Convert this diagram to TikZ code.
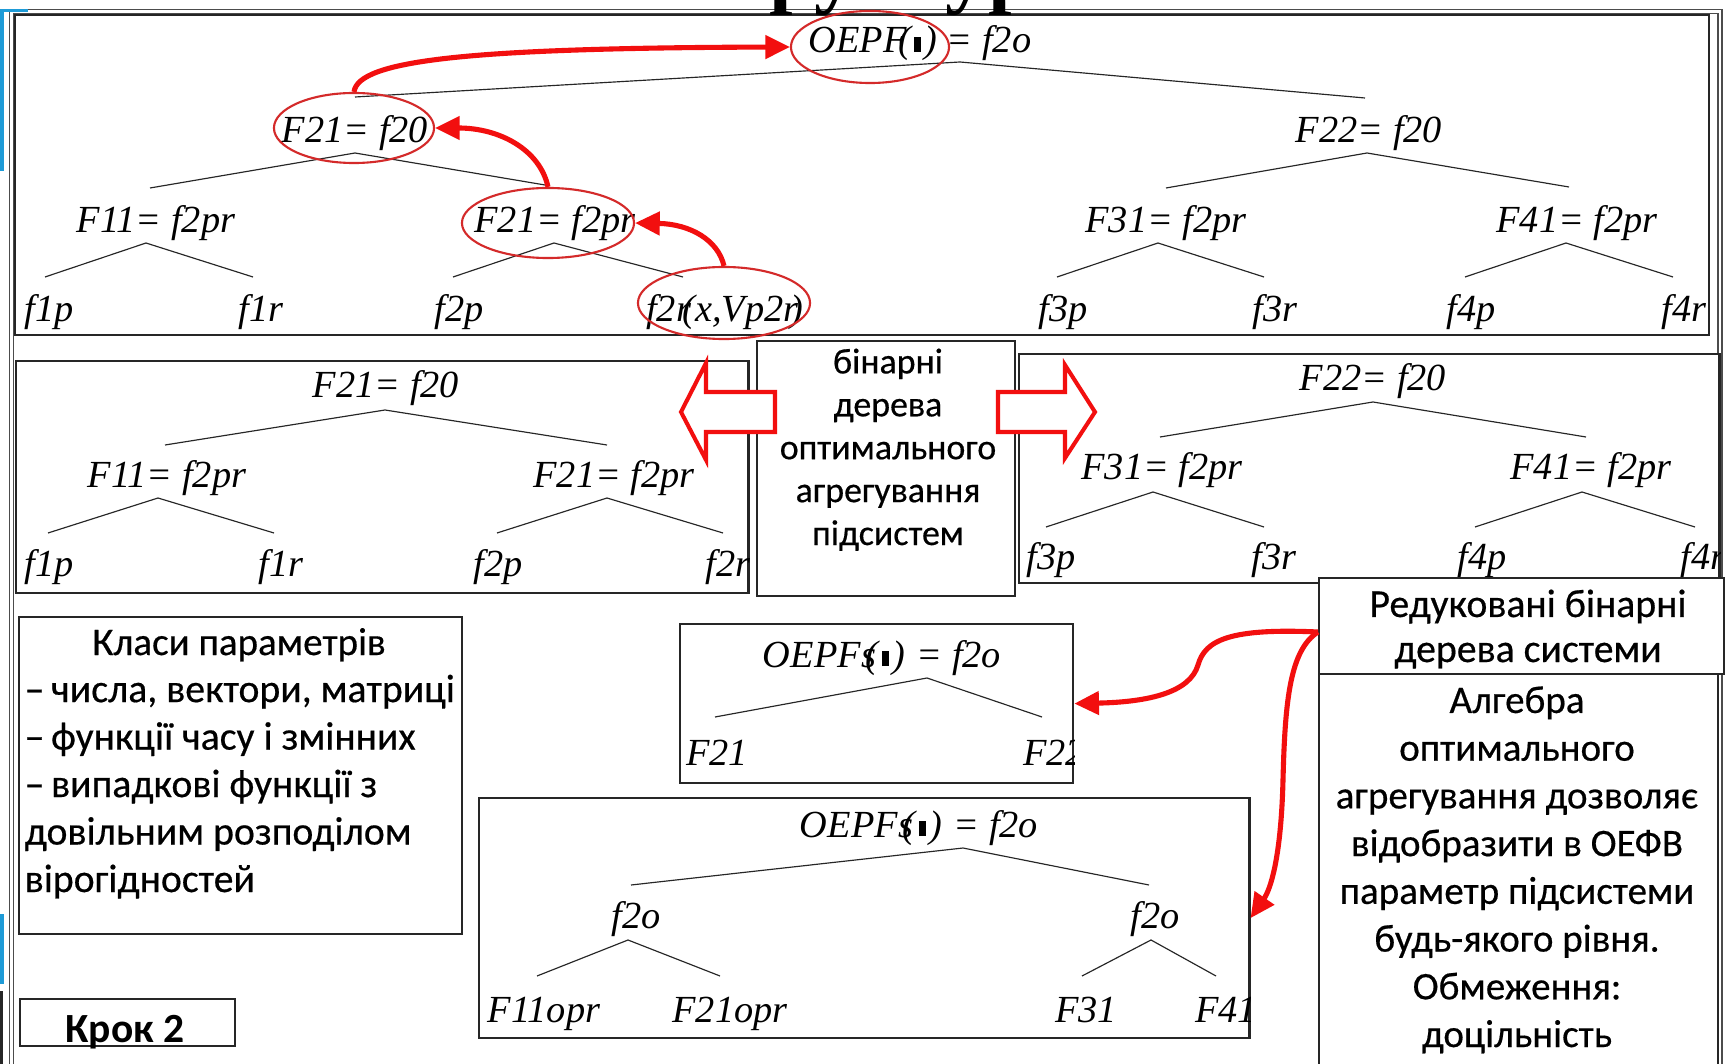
\documentclass[tikz,border=0pt]{standalone}
\usepackage{fontspec}
\setmainfont{Liberation Serif}
\newfontfamily\calfont{Carlito}[FakeBold=0.45]
\newfontfamily\calplain{Carlito}
\usetikzlibrary{arrows.meta,shapes.geometric}
\definecolor{rd}{HTML}{F20F0F}
\definecolor{rde}{HTML}{D42A2A}
\definecolor{bl}{HTML}{1E9BD7}
\definecolor{bk}{HTML}{262626}
\newcommand\mybranch[4]{%
  \coordinate (#1) at (#2);
  \coordinate (#1l) at (#3);
  \coordinate (#1r) at (#4);
  \draw[tl] (#1l) -- (#1) -- (#1r);}
\newcommand\myblk{\rule[0.02em]{0.17em}{0.4em}}
\newcommand\oepfA{OEPF\kern-0.22em(\kern0.08em\myblk\kern0.1em) = f2o}
\newcommand\oepfB{OEPF\kern0.02em s\kern-0.28em(\kern0.1em\myblk\kern0.1em)\kern0.04em\ =\ f2o}
\tikzset{
  lab/.style={inner sep=0pt, anchor=base, font=\fontsize{10.9}{12}\selectfont\itshape},
  tl/.style={draw=black!85, line width=0.33pt},
  boxs/.style={draw=bk, line width=0.6pt, fill=white, inner sep=0pt, anchor=north west},
  ell/.style={ellipse, draw=rde, line width=0.6pt, inner sep=0pt},
  rarr/.style={draw=rd, line width=1.45pt, -{Triangle[length=7pt,width=6.5pt]}},
  hollow/.style={draw=rd, line width=1.15pt, fill=white, line join=miter},
  cal/.style={inner sep=0pt, font=\calfont\fontsize{11.1}{13.57}\selectfont},
}
\begin{document}
\begin{tikzpicture}[x=0.01cm,y=-0.01cm]
\useasboundingbox (0,0) rectangle (1727,1064);
\fill[white] (0,0) rectangle (1727,1064);
% outer frame
\draw[draw=black!70, line width=0.45pt, double=white, double distance=0.6pt] (11.5,11.5) rectangle (1720,1100);

% ---------- top panel ----------
\node[boxs, minimum width=16.93cm, minimum height=3.20cm] (tp) at (14,14) {};
\begin{scope}
\clip (tp.north west) rectangle (tp.south east);
\node[lab] (r0t) at (920,53) {\oepfA};
\node[lab] (a21) at (355,143) {F21= f20};
\node[lab] (a22) at (1369,143) {F22= f20};
\node[lab] (a11) at (156,233) {F11= f2pr};
\node[lab] (a21b) at (555,233) {F21= f2pr};
\node[lab] (a31) at (1166,233) {F31= f2pr};
\node[lab] (a41) at (1577,233) {F41= f2pr};
\node[lab] (l1p) at (49,322) {f1p};
\node[lab] (l1r) at (261,322) {f1r};
\node[lab] (l2p) at (459,322) {f2p};
\node[lab] (l2r) at (725,322) {f2r\kern-0.22em(x,Vp2r\kern-0.2em)};
\node[lab] (l3p) at (1063,322) {f3p};
\node[lab] (l3r) at (1275,322) {f3r};
\node[lab] (l4p) at (1471,322) {f4p};
\node[lab] (l4r) at (1684,322) {f4r};
\mybranch{b0}{960,62}{355,97}{1365,98}
\mybranch{b21}{355,153}{150,188}{545,185}
\mybranch{b22}{1367,153}{1166,188}{1569,187}
\mybranch{b11}{146,243}{45,277}{253,277}
\mybranch{b21b}{554,243}{453,277}{683,277}
\mybranch{b31}{1158,243}{1057,277}{1264,277}
\mybranch{b41}{1566,243}{1465,277}{1673,277}
\end{scope}

% ---------- middle left ----------
\node[boxs, minimum width=7.32cm, minimum height=2.32cm] (lm) at (15,360) {};
\begin{scope}
\clip (lm.north west) rectangle (lm.south east);
\node[lab] (m21) at (386,398) {F21= f20};
\node[lab] (m11) at (167,488) {F11= f2pr};
\node[lab] (m21b) at (614,488) {F21= f2pr};
\node[lab] (m1p) at (49,577) {f1p};
\node[lab] (m1r) at (281,577) {f1r};
\node[lab] (m2p) at (498,577) {f2p};
\node[lab] (m2r) at (728,577) {f2r};
\mybranch{c21}{385,410}{165,445}{607,445}
\mybranch{c11}{158,498}{48,533}{274,533}
\mybranch{c21b}{607,498}{497,533}{723,533}
\end{scope}

% ---------- middle right ----------
\node[boxs, minimum width=7.00cm, minimum height=2.29cm] (rm) at (1018,353) {};
\begin{scope}
\clip (rm.north west) rectangle (rm.south east);
\node[lab] (n22) at (1373,391) {F22= f20};
\node[lab] (n31) at (1162,480) {F31= f2pr};
\node[lab] (n41) at (1591,480) {F41= f2pr};
\node[lab] (n3p) at (1051,569) {f3p};
\node[lab] (n3r) at (1274,569) {f3r};
\node[lab] (n4p) at (1482,569) {f4p};
\node[lab] (n4r) at (1703,569) {f4r};
\mybranch{d22}{1373,402}{1160,437}{1586,437}
\mybranch{d31}{1153,492}{1046,527}{1264,527}
\mybranch{d41}{1582,492}{1475,527}{1695,527}
\end{scope}

% ---------- centre box ----------
\node[boxs, minimum width=2.58cm, minimum height=2.55cm] (cb) at (756,340) {};
\node[cal, font=\calfont\fontsize{10.2}{12.2}\selectfont, align=center, anchor=base] (cbt) at (888,545)
  {бінарні\\дерева\\оптимального\\агрегування\\підсистем};
\draw[hollow] (775,392) -- (706,392) -- (706,363) -- (681,412) -- (706,460) -- (706,432) -- (775,432) -- cycle;
\draw[hollow] (998,392) -- (1065,392) -- (1065,365) -- (1095,412) -- (1065,458) -- (1065,432) -- (998,432) -- cycle;

% ---------- classes box ----------
\node[boxs, minimum width=4.43cm, minimum height=3.17cm] (kb) at (18,616) {};
\node[cal, anchor=base] (kbh) at (239,655) {Класи параметрів};
\node[cal, font=\calfont\fontsize{11.3}{13.5}\selectfont, align=left, anchor=base west] (kbl) at (24,892)
  {–\,числа, вектори, матриці\\–\,функції часу і змінних\\–\,випадкові функції з\\довільним розподілом\\вірогідностей};
\node[boxs, minimum width=2.15cm, minimum height=0.47cm] (kr) at (19,998) {};
\node[cal, font=\calplain\bfseries\fontsize{11.8}{13}\selectfont, anchor=base] (krt) at (125,1042) {Крок 2};

% ---------- small OEPF box ----------
\node[boxs, minimum width=3.93cm, minimum height=1.59cm] (sb) at (679,623) {};
\begin{scope}
\clip (sb.north west) rectangle (sb.south east);
\node[lab] (s0) at (882,667) {\oepfB};
\node[lab] (s21) at (717,765) {F21};
\node[lab] (s22) at (1054,765) {F22};
\mybranch{e0}{927,678}{715,717}{1042,717}
\end{scope}

% ---------- big OEPF box ----------
\node[boxs, minimum width=7.70cm, minimum height=2.40cm] (bb) at (478,797) {};
\begin{scope}
\clip (bb.north west) rectangle (bb.south east);
\node[lab] (g0) at (919,837) {\oepfB};
\node[lab] (g1) at (636,928) {f2o};
\node[lab] (g2) at (1155,928) {f2o};
\node[lab] (g11) at (544,1022) {F11opr};
\node[lab] (g21) at (730,1022) {F21opr};
\node[lab] (g31) at (1086,1022) {F31};
\node[lab] (g41) at (1226,1022) {F41};
\mybranch{h0}{963,848}{631,885}{1149,885}
\mybranch{h1}{628,940}{537,976}{720,976}
\mybranch{h2}{1151,940}{1082,976}{1216,976}
\end{scope}

% ---------- right text boxes ----------
\node[boxs, minimum width=4.05cm, minimum height=0.96cm] (rb) at (1318,577) {};
\node[cal, font=\calfont\fontsize{11.3}{12.8}\selectfont, align=center, anchor=base] (rbt) at (1528,662)
  {Редуковані бінарні\\дерева системи};
\node[boxs, minimum width=3.99cm, minimum height=4.20cm] (ab) at (1318,673) {};
\node[cal, align=center, anchor=base] (abt) at (1517,1047)
  {Алгебра\\оптимального\\агрегування дозволяє\\відобразити в ОЕФВ\\параметр підсистеми\\будь-якого рівня.\\Обмеження:\\доцільність};

% ---------- red ellipses ----------
\node[ell, minimum width=1.58cm, minimum height=0.72cm] (e1) at (870,47) {};
\node[ell, minimum width=1.60cm, minimum height=0.70cm] (e2) at (354,128) {};
\node[ell, minimum width=1.72cm, minimum height=0.70cm] (e3) at (548,223) {};
\node[ell, minimum width=1.72cm, minimum height=0.72cm] (e4) at (724,303) {};

% ---------- red arrows ----------
\draw[rarr] (e2.north) .. controls (358,60) and (470,48) .. (e1.west);
\draw[rarr] (e3.north) .. controls (540,150) and (500,128) .. (e2.east);
\draw[rarr] (e4.north) .. controls (718,240) and (690,224) .. (e3.east);
\coordinate (rs) at (1318,632);
\draw[rarr] (rs) .. controls (1230,628) and (1205,640) .. (1198,665) .. controls (1190,692) and (1150,702) .. (sb.east);
\draw[rarr] (rs) .. controls (1290,650) and (1285,700) .. (1283,780) .. controls (1281,860) and (1270,890) .. (bb.east);

% ---------- heading fragment and side bars ----------
\node[anchor=base west, inner sep=0pt, font=\fontsize{24}{26}\selectfont\bfseries] (ttl) at (666,-2) {Структура};
\fill[bl] (0,9) rectangle (28,12);
\fill[bl] (0,9) rectangle (4,171);
\fill[bl] (0,914) rectangle (4,984);
\fill[bk] (0,991) rectangle (3,1064);
\end{tikzpicture}
\end{document}
